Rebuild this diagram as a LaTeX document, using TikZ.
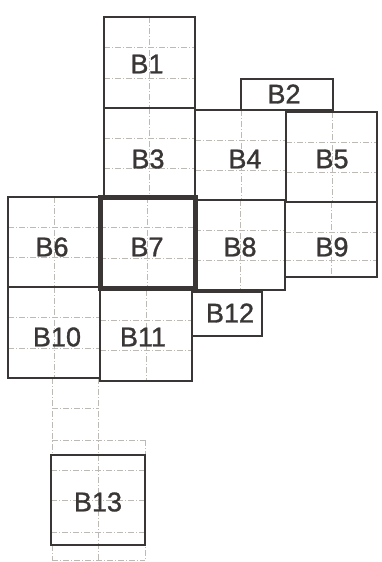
\documentclass[tikz,border=0pt]{standalone}
\usepackage{fontspec}
\setmainfont{Liberation Sans}
\newfontfamily\labfont[FakeBold=1.2]{Liberation Sans}
\definecolor{ink}{HTML}{3A3636}
\definecolor{gridc}{HTML}{BDB9B5}
\begin{document}
\begin{tikzpicture}[x=1pt,y=-1pt,
  boxline/.style={draw=ink,line width=2pt},
  thickbox/.style={draw=ink,line width=5pt},
  gridline/.style={draw=gridc,line width=0.7pt,dash pattern=on 6pt off 2pt on 1pt off 2pt},
  lab/.style={text=ink,font=\labfont\fontsize{27}{30}\selectfont,inner sep=0pt}]
\useasboundingbox[fill=white] (0,0) rectangle (382,562);
% dashed grid inside boxes
\foreach \x/\ya/\yb in {149.5/17/108, 149.5/108/197, 241/110/200, 332/112/202,
  54/197/287, 147/197/288, 240/200/290, 331/202/277, 54/287/378, 146/290/381,
  52/378/455, 98/378/560, 145/440/560, 52/545/560}
  \draw[gridline] (\x,\ya) -- (\x,\yb);
\foreach \y/\xa/\xb in {47/104/195, 78/104/195, 138/104/195, 168/104/195,
  140/195/286, 170/195/286, 142/286/377, 172/286/377,
  227/8/100, 257/8/100, 227/100/195, 258/100/195, 230/195/285, 260/195/285,
  232/285/377, 260/285/377, 317/8/100, 348/8/100, 320/100/192, 350/100/192,
  408/52/98, 440/52/145, 470/51/145, 500/51/145, 532/51/145, 560/52/145}
  \draw[gridline] (\xa,\y) -- (\xb,\y);
% boxes
\draw[boxline] (104,17) rectangle (195,108);
\draw[boxline] (241,79) rectangle (333,110);
\draw[boxline] (104,108) rectangle (195,197);
\draw[boxline] (195,110) rectangle (286,200);
\draw[boxline] (286,112) rectangle (377,202);
\draw[boxline] (8,197) rectangle (100,287);
\draw[boxline] (195,200) rectangle (285,290);
\draw[boxline] (285,202) rectangle (377,277);
\draw[boxline] (8,287) rectangle (100,378);
\draw[boxline] (100,290) rectangle (192,381);
\draw[boxline] (192,292) rectangle (262,336);
\draw[boxline] (51,455) rectangle (145,545);
\draw[thickbox] (100,197) rectangle (195,288);
% labels
\node[lab] (b1) at (147,64) {B1};
\node[lab] (b2) at (284,94) {B2};
\node[lab] (b3) at (148,159) {B3};
\node[lab] (b4) at (245,159) {B4};
\node[lab] (b5) at (332,159) {B5};
\node[lab] (b6) at (52,247) {B6};
\node[lab] (b7) at (147,247) {B7};
\node[lab] (b8) at (240,247) {B8};
\node[lab] (b9) at (332,247) {B9};
\node[lab] (b10) at (57,337) {B10};
\node[lab] (b11) at (143,337) {B11};
\node[lab] (b12) at (230,313) {B12};
\node[lab] (b13) at (98,502) {B13};
\end{tikzpicture}
\end{document}
